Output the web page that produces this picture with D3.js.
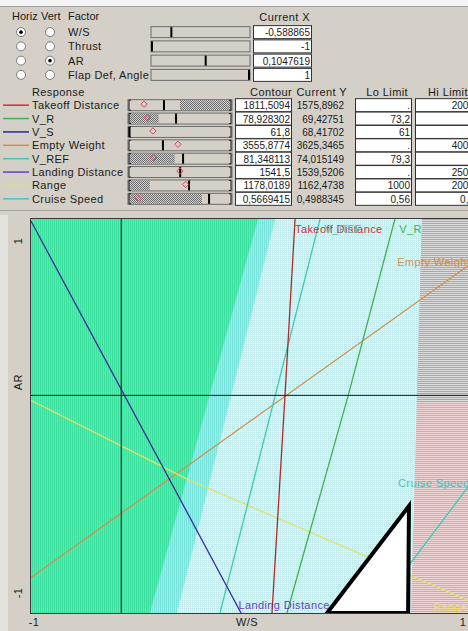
<!DOCTYPE html>
<html>
<head>
<meta charset="UTF-8">
<title>Contour Profiler</title>
<script src="https://d3js.org/d3.v7.min.js"></script>
<style>
  html, body { margin: 0; padding: 0; background: #d4d0c8; }
  svg text { font-family: "Liberation Sans", Arial, sans-serif; font-size: 11px; letter-spacing: 0.4px; fill: #1a1a1a; }
  svg text.num { font-size: 10px; letter-spacing: 0; }
  svg text.hd { letter-spacing: 0; }
</style>
</head>
<body>
<div id="container"></div>
<script>
// ---- factor table
const factors = ["W/S", "Thrust", "AR", "Flap Def, Angle"];
const currentX = [-0.588865, -1, 0.1047619, 1];
const horizSel = 0, vertSel = 2;

// ---- response table
const responses = ["Takeoff Distance", "V_R", "V_S", "Empty Weight", "V_REF", "Landing Distance", "Range", "Cruise Speed"];
const respColors = ["#c83030", "#40b050", "#2a2a9a", "#d09050", "#40c8b0", "#6a3cc0", "#e0e070", "#40c8c0"];
const contourVals = [1811.5094, 78.928302, 61.8, 3555.8774, 81.348113, 1541.5, 1178.0189, 0.5669415];
const currentY = [1575.8962, 69.42751, 68.41702, 3625.3465, 74.015149, 1539.5206, 1162.4738, 0.4988345];
const loLimit = [null, 73.2, 61, null, 79.3, null, 1000, 0.56];
const hiLimit = [2000, null, null, 4000, null, 2500, 2000, 0.7];
const sliderMin = [1387, 63.2, 61.8, 3394, 67.9, 1100, 901, 0.489];
const sliderMax = [2614, 97.25, 89.4, 3876, 93.3, 1980, 1373, 0.589];

// ---- contour plot (W/S horizontal, AR vertical)
const takeoffLine = [[0.203, 1], [0.157, 0.1], [0.098, -1]];
const vrefLine = [[0.317, 1], [-0.139, -1]];
const vrLine = [[0.658, 1], [0.444, 0.1], [0.166, -1]];
const emptyLine = [[-1, -0.82], [1, 0.77]];
const landingLine = [[-1, 0.99], [-0.043, -1]];
const rangeLine = [[-1, 0.08], [-0.289, -0.32], [1, -0.94]];
const cruiseLine = [[0.558, -1], [1, -0.347]];
const greenEdge = [[0.034, 1], [-0.458, -1]];
const midEdge = [[0.112, 1], [-0.335, -1]];
const grayEdge = [[0.781, 1], [0.758, 0.08], [0.731, -1]];
const pinkSplit = 0.07;
const feasible = [[0.349, -1], [0.722, -0.457], [0.718, -1]];

const fmt = v => String(v).replace(".", ",");

const W = 468, H = 631;
const svg = d3.select("#container").append("svg")
  .attr("width", W).attr("height", H);

const defs = svg.append("defs");
function pat(id, bg, marks) {
  const p = defs.append("pattern").attr("id", id).attr("width", 2).attr("height", 2)
    .attr("patternUnits", "userSpaceOnUse");
  p.append("rect").attr("width", 2).attr("height", 2).attr("fill", bg);
  marks.forEach(m => p.append("rect").attr("x", m[0]).attr("y", m[1]).attr("width", m[2]).attr("height", m[3]).attr("fill", m[4]));
}
pat("dith", "#d4d0c8", [[0, 0, 1, 1, "#6e6e6e"], [1, 1, 1, 1, "#6e6e6e"]]);
pat("green", "#3ee0a0", [[1, 0, 1, 2, "#5ce8b4"]]);
pat("mid", "#78e4dc", [[1, 0, 1, 2, "#9aece6"]]);
pat("light", "#c4eef0", [[1, 1, 1, 1, "#f0fcfc"]]);
pat("gray", "#dcdcdc", [[0, 1, 2, 1, "#a8a8a8"]]);
pat("pink", "#f0d6d6", [[0, 1, 2, 1, "#c0b0b0"]]);

svg.append("rect").attr("width", W).attr("height", H).attr("fill", "#d4d0c8");
svg.append("rect").attr("width", W).attr("height", 6).attr("fill", "#f4f4f4");
svg.append("line").attr("x1", 0).attr("x2", W).attr("y1", 6.5).attr("y2", 6.5).attr("stroke", "#a0a0a0");

// ================= factor panel
const fRow = d3.scaleBand().domain(d3.range(factors.length)).range([25, 82]);
const fSlide = d3.scaleLinear().domain([-1, 1]).range([151, 250]);

svg.append("text").attr("class", "hd").attr("x", 12).attr("y", 20).text("Horiz");
svg.append("text").attr("class", "hd").attr("x", 41).attr("y", 20).text("Vert");
svg.append("text").attr("class", "hd").attr("x", 68).attr("y", 20).text("Factor");
svg.append("text").attr("x", 310).attr("y", 21).attr("text-anchor", "end").text("Current X");

factors.forEach((f, i) => {
  const cy = fRow(i) + fRow.bandwidth() / 2;
  [[21, horizSel], [50, vertSel]].forEach(([cx, sel]) => {
    svg.append("circle").attr("cx", cx).attr("cy", cy).attr("r", 4.5)
      .attr("fill", "#fff").attr("stroke", "#7a7a7a");
    if (sel === i) svg.append("circle").attr("cx", cx).attr("cy", cy).attr("r", 1.8).attr("fill", "#000");
  });
  svg.append("text").attr("x", 68).attr("y", cy + 4).text(f);
  svg.append("rect").attr("x", 151).attr("y", cy - 5.5).attr("width", 99).attr("height", 11)
    .attr("fill", "#d4d0c8").attr("stroke", "#6a6a6a");
  const mx = Math.max(152, Math.min(249, fSlide(currentX[i])));
  svg.append("rect").attr("x", mx - 1).attr("y", cy - 5).attr("width", 2).attr("height", 10).attr("fill", "#000");
  svg.append("rect").attr("x", 253.5).attr("y", cy - 6.5).attr("width", 58).attr("height", 13)
    .attr("fill", "#fff").attr("stroke", "#303030");
  svg.append("text").attr("class", "num").attr("x", 310).attr("y", cy + 4).attr("text-anchor", "end").text(fmt(currentX[i]));
});

// ================= response panel
const rRow = d3.scaleBand().domain(d3.range(responses.length)).range([98.5, 205.5]);
svg.append("text").attr("x", 32).attr("y", 96).text("Response");
svg.append("text").attr("x", 292).attr("y", 96).attr("text-anchor", "end").text("Contour");
svg.append("text").attr("x", 347).attr("y", 96).attr("text-anchor", "end").text("Current Y");
svg.append("text").attr("x", 408).attr("y", 96).attr("text-anchor", "end").text("Lo Limit");
svg.append("text").attr("x", 428).attr("y", 96).text("Hi Limit");

responses.forEach((r, i) => {
  const cy = rRow(i) + rRow.bandwidth() / 2;
  svg.append("line").attr("x1", 3).attr("x2", 29).attr("y1", cy).attr("y2", cy)
    .attr("stroke", respColors[i]).attr("stroke-width", 1.5);
  svg.append("text").attr("x", 32).attr("y", cy + 4).text(r);

  const s = d3.scaleLinear().domain([sliderMin[i], sliderMax[i]]).range([128, 232]).clamp(true);
  svg.append("rect").attr("x", 128).attr("y", cy - 5.5).attr("width", 104).attr("height", 11)
    .attr("fill", "#d4d0c8").attr("stroke", "#6a6a6a");
  if (loLimit[i] !== null && loLimit[i] > sliderMin[i])
    svg.append("rect").attr("x", 129).attr("y", cy - 5).attr("width", s(loLimit[i]) - 129).attr("height", 10).attr("fill", "url(#dith)");
  if (hiLimit[i] !== null && hiLimit[i] < sliderMax[i])
    svg.append("rect").attr("x", s(hiLimit[i])).attr("y", cy - 5).attr("width", 231 - s(hiLimit[i])).attr("height", 10).attr("fill", "url(#dith)");
  // bracket end caps
  svg.append("path").attr("d", `M131,${cy - 5}H129V${cy + 5}H131 M229,${cy - 5}H231V${cy + 5}H229`)
    .attr("fill", "none").attr("stroke", "#202020").attr("stroke-width", 1);
  const tx = Math.max(129.5, s(contourVals[i]));
  svg.append("rect").attr("x", tx - 1).attr("y", cy - 5).attr("width", 2).attr("height", 10).attr("fill", "#000");
  const dx = s(currentY[i]);
  svg.append("path").attr("d", d3.symbol(d3.symbolDiamond2, 26)())
    .attr("transform", `translate(${dx},${cy - 1})`)
    .attr("fill", "none").attr("stroke", "#d84860").attr("stroke-width", 1);

  svg.append("rect").attr("x", 235.5).attr("y", cy - 6.5).attr("width", 56).attr("height", 13)
    .attr("fill", "#fff").attr("stroke", "#303030");
  svg.append("text").attr("class", "num").attr("x", 290).attr("y", cy + 4).attr("text-anchor", "end").text(fmt(contourVals[i]));
  svg.append("text").attr("class", "num").attr("x", 344).attr("y", cy + 4).attr("text-anchor", "end").text(fmt(currentY[i]));
  svg.append("rect").attr("x", 355.5).attr("y", cy - 6.5).attr("width", 56).attr("height", 13)
    .attr("fill", "#fff").attr("stroke", "#303030");
  svg.append("text").attr("class", "num").attr("x", 410).attr("y", cy + 4).attr("text-anchor", "end").text(loLimit[i] === null ? "." : fmt(loLimit[i]));
  svg.append("rect").attr("x", 415.5).attr("y", cy - 6.5).attr("width", 60).attr("height", 13)
    .attr("fill", "#fff").attr("stroke", "#303030");
  svg.append("text").attr("class", "num").attr("x", 474).attr("y", cy + 4).attr("text-anchor", "end").text(hiLimit[i] === null ? "." : fmt(hiLimit[i]));
});
svg.append("line").attr("x1", 0).attr("x2", W).attr("y1", 210.5).attr("y2", 210.5).attr("stroke", "#a8a49c");

// ================= contour plot
const x = d3.scaleLinear().domain([-1, 1]).range([31, 470]);
const y = d3.scaleLinear().domain([-1, 1]).range([613, 219]);
const line = d3.line().x(d => x(d[0])).y(d => y(d[1]));

svg.append("rect").attr("x", 0).attr("y", 215).attr("width", 8).attr("height", 416).attr("fill", "#e4e2dc");
defs.append("clipPath").attr("id", "plotclip").append("rect")
  .attr("x", 31).attr("y", 219).attr("width", 439).attr("height", 394);
const g = svg.append("g").attr("clip-path", "url(#plotclip)");

g.append("rect").attr("x", 31).attr("y", 219).attr("width", 439).attr("height", 394).attr("fill", "url(#light)");
// right side: pink below, gray above
const right = grayEdge.concat([[1.2, -1], [1.2, 1]]);
g.append("path").attr("d", line(right) + "Z").attr("fill", "url(#pink)");
const grayTop = [[0.781, 1], [0.758, pinkSplit], [1.2, pinkSplit], [1.2, 1]];
g.append("path").attr("d", line(grayTop) + "Z").attr("fill", "url(#gray)");
g.append("path").attr("d", line([[-1.1, 1]].concat(midEdge, [[-1.1, -1]])) + "Z").attr("fill", "url(#mid)");
g.append("path").attr("d", line([[-1.1, 1]].concat(greenEdge, [[-1.1, -1]])) + "Z").attr("fill", "url(#green)");

const contours = [
  [emptyLine, respColors[3]],
  [rangeLine, respColors[6]],
  [cruiseLine, respColors[7]],
  [vrefLine, respColors[4]],
  [vrLine, respColors[1]],
  [takeoffLine, "#b02828"],
  [landingLine, "#3a2a9a"]
];
contours.forEach(([pts, c]) => {
  g.append("path").attr("d", line(pts)).attr("fill", "none").attr("stroke", c).attr("stroke-width", 1.3);
});

// crosshair at current factor settings
g.append("line").attr("x1", x(currentX[horizSel])).attr("x2", x(currentX[horizSel]))
  .attr("y1", 219).attr("y2", 613).attr("stroke", "#1a1a1a");
g.append("line").attr("x1", 31).attr("x2", 470)
  .attr("y1", y(currentX[vertSel])).attr("y2", y(currentX[vertSel])).attr("stroke", "#1a1a1a");

// feasible region triangle
g.append("path").attr("d", line(feasible) + "Z").attr("fill", "#fff")
  .attr("stroke", "#000").attr("stroke-width", 4).attr("stroke-linejoin", "miter");

// contour labels
const labs = [
  ["Takeoff Distance", takeoffLine[0][0], 0.95, respColors[0]],
  ["V_REF", vrefLine[0][0] + 0.02, 0.95, "#60b8a8"],
  ["V_R", vrLine[0][0] + 0.02, 0.95, respColors[1]],
  ["Empty Weight", 0.668, 0.78, respColors[3]],
  ["Cruise Speed", 0.672, -0.34, respColors[7]],
  ["Landing Distance", landingLine[1][0] - 0.012, -0.96, "#6a3cc0"],
  ["Range", 0.83, -0.97, "#e8e040"]
];
labs.forEach(([t, lx, ly, c]) => {
  g.append("text").attr("x", x(lx)).attr("y", y(ly) + 4).style("fill", c).text(t);
});

svg.append("rect").attr("x", 30.5).attr("y", 218.5).attr("width", 450).attr("height", 395)
  .attr("fill", "none").attr("stroke", "#3a3a3a");

// axes text
svg.append("text").attr("transform", `translate(22,${y(1) + 22}) rotate(-90)`).attr("text-anchor", "middle").text("1");
svg.append("text").attr("transform", `translate(22,${y(0.1) - 14}) rotate(-90)`).attr("text-anchor", "middle").text("AR");
svg.append("text").attr("transform", `translate(22,${y(-1) - 20}) rotate(-90)`).attr("text-anchor", "middle").text("-1");
svg.append("text").attr("x", 34).attr("y", 626).attr("text-anchor", "middle").text("-1");
svg.append("text").attr("x", 247).attr("y", 626).attr("text-anchor", "middle").text("W/S");
svg.append("text").attr("x", 463).attr("y", 626).attr("text-anchor", "middle").text("1");
</script>
</body>
</html>
